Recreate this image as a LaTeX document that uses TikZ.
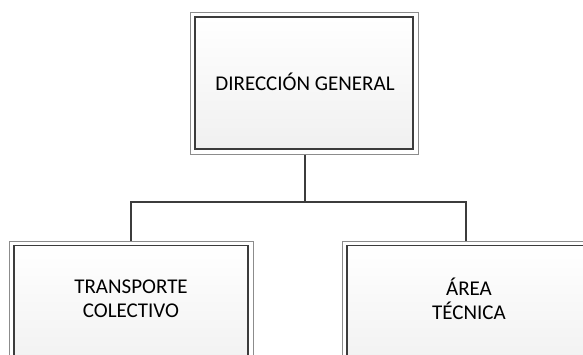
\documentclass[tikz,border=0pt]{standalone}
\usepackage{fontspec}
\setmainfont{Carlito}
\usetikzlibrary{calc}
\definecolor{lineDark}{HTML}{3C3C3C}
\definecolor{frameGray}{HTML}{8C8C8C}
\definecolor{boxBottom}{HTML}{F0F0F0}
\tikzset{
  orgbox/.style={draw=lineDark, line width=1.2pt, top color=white, bottom color=boxBottom, inner sep=0pt, minimum width=#1},
  outerframe/.style={draw=frameGray, line width=1pt, fill=white},
  conn/.style={draw=lineDark, line width=2.2pt},
  lbl/.style={align=center, font=\fontsize{21}{24}\selectfont, text=black, inner sep=0pt}
}
\begin{document}
\begin{tikzpicture}[x=1pt,y=-1pt]
\useasboundingbox (0,0) rectangle (583,354);
\clip (0,0) rectangle (583,354);
\fill[white] (0,0) rectangle (583,354);
% top box
\draw[outerframe] (190,12) rectangle (418,154);
\node[orgbox=218pt, minimum height=132pt] (top) at (304,83) {};
\node[lbl] (toptext) at (305,81.5) {DIRECCIÓN GENERAL};
% left box
\draw[outerframe] (9,241) rectangle (253,380);
\node[orgbox=234pt, minimum height=130pt, anchor=north] (left) at (131,245) {};
\node[lbl] (lefttext) at (131,299) {TRANSPORTE\\COLECTIVO};
% right box
\draw[outerframe] (342,241) rectangle (590,380);
\node[orgbox=238pt, minimum height=130pt, anchor=north] (right) at (466,245) {};
\node[lbl] (righttext) at (469,299) {ÁREA\\TÉCNICA};
% connectors
\coordinate (mid) at (305,202);
\draw[conn] ($(top.south)+(1,5)$) -- (mid);
\draw[conn] ($(left.north)+(0,-4)$) |- (mid) -| ($(right.north)+(0,-4)$);
\end{tikzpicture}
\end{document}
